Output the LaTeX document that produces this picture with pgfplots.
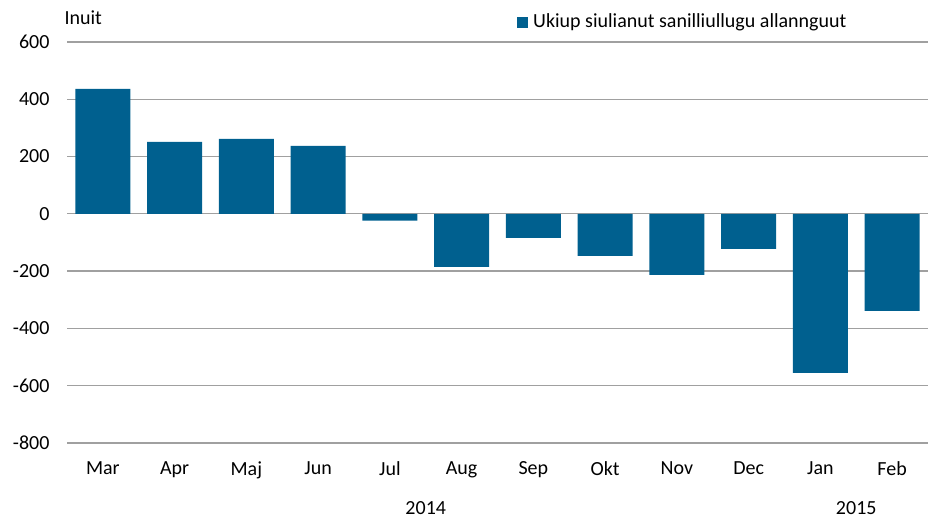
\documentclass[border=0pt]{standalone}
\usepackage{pgfplots}
\pgfplotsset{compat=1.18}
\usepackage{fontspec}
\setmainfont{Carlito}
\definecolor{barblue}{HTML}{00608F}
\definecolor{gridgray}{HTML}{A0A0A0}
\begin{document}
\begin{tikzpicture}[x=1bp,y=1bp]
\useasboundingbox (0,0) rectangle (929,519);
\begin{axis}[
  at={(67bp,76bp)}, anchor=south west,
  scale only axis, width=861bp, height=401bp,
  xmin=-0.5, xmax=11.5, ymin=-800, ymax=600,
  ytick={-800,-600,...,600},
  xtick={0,...,11},
  xticklabels={Mar,Apr,Maj,Jun,Jul,Aug,Sep,Okt,Nov,Dec,Jan,Feb},
  axis line style={draw=none},
  major tick length=0pt,
  ymajorgrids, grid style={gridgray, line width=1.3bp},
  font=\fontsize{20bp}{22bp}\selectfont,
  /pgf/number format/assume math mode=true,
  /pgf/number format/1000 sep={},
  yticklabel style={xshift=-14bp},
  xticklabel style={yshift=-15bp},
  clip=false,
]
\addplot[ybar, bar width=55bp, fill=barblue, draw=none, forget plot]
  coordinates {(0,436) (1,251) (2,262) (3,237) (4,-24) (5,-185) (6,-84) (7,-147) (8,-213) (9,-122) (10,-555) (11,-339)};
\node[font=\fontsize{20bp}{22bp}\selectfont] at (axis cs:4.5,-800) [yshift=-65bp] {2014};
\node[font=\fontsize{20bp}{22bp}\selectfont] at (axis cs:10.5,-800) [yshift=-65bp] {2015};
\end{axis}
\node[anchor=west, font=\fontsize{20bp}{22bp}\selectfont] at (61,501) {Inuit};
\fill[barblue] (517,491) rectangle (528,502);
\node[anchor=west, font=\fontsize{20bp}{22bp}\selectfont, inner sep=0pt] at (533,497) {Ukiup siulianut sanilliullugu allannguut};
\end{tikzpicture}
\end{document}
